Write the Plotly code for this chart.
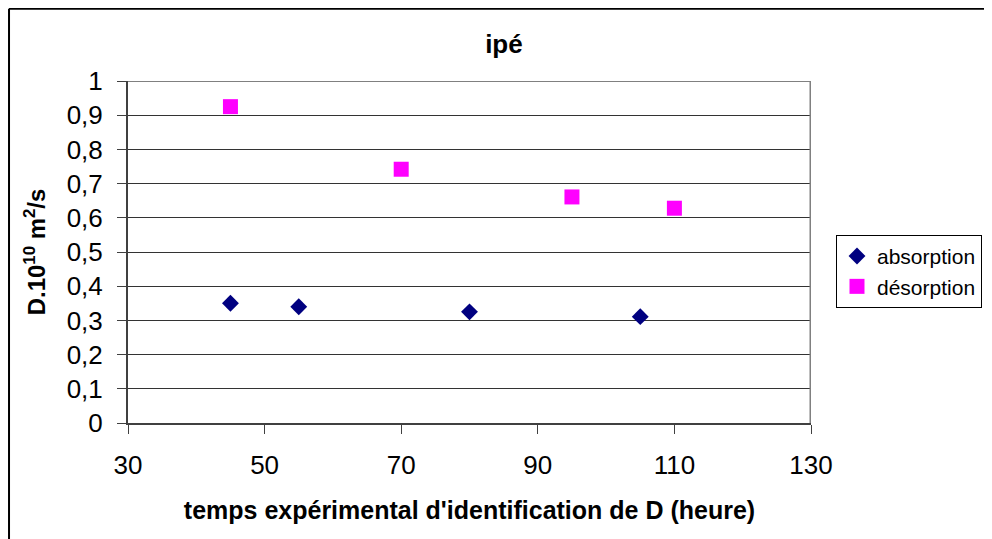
import plotly.graph_objects as go

# temps (heure) et D.10^10 (m2/s)
t_absorption = [45, 55, 80, 105]
d_absorption = [0.35, 0.34, 0.325, 0.311]

t_desorption = [45, 70, 95, 110]
d_desorption = [0.925, 0.742, 0.661, 0.628]

police = "Liberation Sans"

fig = go.Figure()
fig.add_trace(go.Scatter(x=t_absorption, y=d_absorption, mode="markers", name="absorption",
                         marker=dict(symbol="diamond", size=13, color="#000080")))
fig.add_trace(go.Scatter(x=t_desorption, y=d_desorption, mode="markers", name="désorption",
                         marker=dict(symbol="square", size=15, color="#FF00FF")))

# la page html ajoute une marge de 8 px : figure un peu plus petite que la fenêtre
fig.update_layout(
    width=984, height=531, autosize=False,
    margin=dict(l=120, r=181, t=73, b=116, autoexpand=False),
    paper_bgcolor="white", plot_bgcolor="white",
    separators=", ",
    font=dict(family=police, color="black", size=26),
    title=dict(text="<b>ipé</b>", x=0.504, xref="container", xanchor="center",
               y=0.932, yanchor="middle", font=dict(size=26)),
    xaxis=dict(range=[30, 130], dtick=20, tick0=30, showgrid=False, zeroline=False,
               ticks="outside", ticklen=9, tickcolor="#404040", showline=True,
               linecolor="#404040", linewidth=2, ticklabelstandoff=9,
               tickfont=dict(size=26),
               title=dict(text="<b>temps expérimental d'identification de D (heure)</b>",
                          font=dict(size=25), standoff=22)),
    yaxis=dict(range=[0, 1], dtick=0.1, showgrid=True, gridcolor="#333333", gridwidth=1,
               zeroline=False, ticks="outside", ticklen=9, tickcolor="#404040",
               showline=True, linecolor="#404040", linewidth=2, ticklabelstandoff=9,
               tickfont=dict(size=26),
               title=dict(text="<b>D.10<sup>10</sup> m<sup>2</sup>/s</b>",
                          font=dict(size=24), standoff=14)),
    legend=dict(x=1.0366, y=0.55, xanchor="left", yanchor="top",
                bordercolor="black", borderwidth=1, bgcolor="white",
                font=dict(size=21), itemwidth=30, tracegroupgap=0),
    shapes=[
        # bord droit et haut de la zone de tracé
        dict(type="line", xref="x", yref="y", x0=130, x1=130, y0=0, y1=1,
             line=dict(color="#808080", width=3)),
        dict(type="line", xref="x", yref="y", x0=30, x1=130, y0=1, y1=1,
             line=dict(color="#808080", width=2)),
        # cadre extérieur du graphique (coupé à droite et en bas)
        dict(type="line", xref="paper", yref="paper", x0=-0.1742, x1=-0.1742, y0=-0.5, y1=1.2114,
             line=dict(color="black", width=2)),
        dict(type="line", xref="paper", yref="paper", x0=-0.1742, x1=1.4, y0=1.2114, y1=1.2114,
             line=dict(color="black", width=2)),
    ],
)

fig.write_html("out.html")
